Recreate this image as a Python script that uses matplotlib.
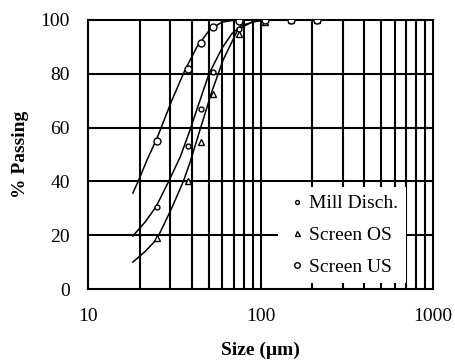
import matplotlib
matplotlib.use("Agg")
import matplotlib.pyplot as plt

plt.rcParams['font.family'] = ['Liberation Serif', 'DejaVu Serif']

# measured points
sizes = [25, 38, 45, 53, 75, 106, 150, 212]
mill_disch = [30.5, 53.3, 67.0, 80.7, 96.7, 100, 100, 100]
screen_os = [19.0, 40.0, 54.6, 72.5, 94.8, 99.3, 100, 100]
screen_us = [55.0, 81.8, 91.4, 97.4, 99.6, 100, 100, 100]

# fitted curves
us_fit_x = [18.2, 19.5, 22.0, 25.1, 30.7, 36.5, 42.8, 50.9, 59.8, 71, 106, 150, 212]
us_fit_y = [35.7, 39.9, 48.0, 56.0, 70.3, 81.4, 90.0, 96.5, 99.2, 100, 100, 100, 100]
md_fit_x = [18.2, 21.5, 24.8, 29.1, 34.2, 38.5, 42.9, 50.3, 59.8, 68.4, 78, 92.7, 106, 150, 212]
md_fit_y = [19.7, 25.0, 30.6, 39.5, 49.0, 58.0, 67.0, 80.0, 89.5, 95.0, 98.0, 99.4, 100, 100, 100]
os_fit_x = [18.2, 21.5, 25.1, 30.3, 35.7, 39.0, 45.0, 52.0, 60.6, 74.0, 89, 101, 150, 212]
os_fit_y = [10.0, 14.0, 18.6, 29.5, 40.0, 47.0, 60.0, 73.0, 85.0, 96.5, 99.2, 100, 100, 100]

fig = plt.figure(figsize=(4.55, 3.61), dpi=100)
ax = fig.add_axes([88/455, 1-289/361, (433-88)/455, (289-20)/361])
ax.set_xscale('log')
ax.set_xlim(10, 1000)
ax.set_ylim(0, 100)

# gridlines
for v in list(range(20, 100, 10)) + [100] + list(range(200, 1000, 100)):
    ax.axvline(v, color='black', lw=1.5, zorder=1)
for v in range(20, 100, 20):
    ax.axhline(v, color='black', lw=1.5, zorder=1)

for fx, fy in [(us_fit_x, us_fit_y), (md_fit_x, md_fit_y), (os_fit_x, os_fit_y)]:
    ax.plot(fx, fy, color='black', lw=1.1, zorder=3)

ax.plot(sizes, mill_disch, ls='none', marker='o', ms=3.5, mfc='white', mec='black', mew=1.0, zorder=4, label='Mill Disch.')
ax.plot(sizes, screen_os, ls='none', marker='^', ms=4.5, mfc='white', mec='black', mew=1.0, zorder=4, label='Screen OS')
ax.plot(sizes, screen_us, ls='none', marker='o', ms=5, mfc='white', mec='black', mew=1.0, zorder=4, label='Screen US')

leg = ax.legend(loc='upper left', bbox_to_anchor=((278-88)/345, (289-187)/269), frameon=True, fancybox=False,
                edgecolor='white', facecolor='white', framealpha=1, fontsize=14,
                handlelength=1.2, handletextpad=0.0, labelspacing=0.72, borderpad=0.4,
                borderaxespad=0, markerscale=0.8)
leg.get_frame().set_linewidth(0)

ax.set_xticks([10, 100, 1000])
ax.set_xticklabels(['10', '100', '1000'])
ax.set_yticks([0, 20, 40, 60, 80, 100])
ax.tick_params(which='both', length=0, labelsize=14)
ax.tick_params(axis='y', pad=13)
ax.tick_params(axis='x', pad=14)
ax.minorticks_off()
for s in ax.spines.values():
    s.set_linewidth(1.5)

ax.set_xlabel('Size (µm)', fontsize=14, fontweight='bold', labelpad=12)
ax.set_ylabel('% Passing', fontsize=14, fontweight='bold', labelpad=8)

fig.savefig('out.png', dpi=100)
